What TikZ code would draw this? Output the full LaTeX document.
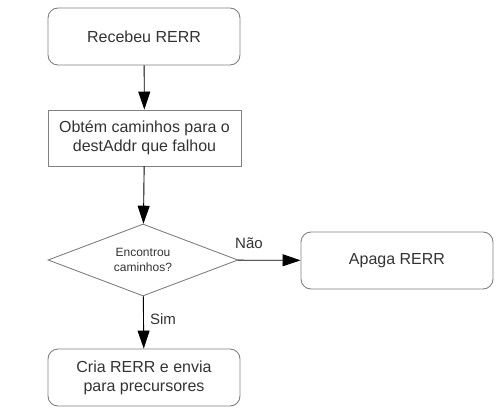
\documentclass[tikz,border=0pt]{standalone}
\usepackage{fontspec}
\setmainfont{Liberation Sans}
\usetikzlibrary{shapes.geometric,arrows.meta}
\definecolor{boxgray}{RGB}{128,128,128}
\definecolor{txt}{RGB}{51,51,51}
\begin{document}
\begin{tikzpicture}[x=1pt,y=-1pt,
  roundbox/.style={draw=boxgray,line width=0.9pt,rounded corners=10pt,minimum width=192pt,minimum height=57pt,inner sep=0pt,align=center,text=txt,font=\fontsize{16}{19}\selectfont},
  plainbox/.style={draw=boxgray,line width=0.9pt,minimum width=193pt,minimum height=56pt,inner sep=0pt,align=center,text=txt,font=\fontsize{16}{19}\selectfont},
  decision/.style={draw=boxgray,line width=0.9pt,shape=diamond,aspect=2.6,minimum width=190pt,minimum height=72pt,inner sep=0pt,align=center,text=txt,font=\fontsize{12}{14.6}\selectfont},
  flow/.style={draw=black,line width=0.9pt,-{Triangle[length=18pt,width=12pt]}},
  lbl/.style={text=txt,font=\fontsize{15}{18}\selectfont,inner sep=0pt}]
\useasboundingbox (0,0) rectangle (503,420);
\node[roundbox] (recv) at (144,36.5) {Recebeu RERR};
\node[plainbox] (get) at (144.5,138) {Obtém caminhos para o\\destAddr que falhou};
\node[decision] (found) at (143,260) {Encontrou\\caminhos?};
\node[roundbox] (del) at (397,260.5) {Apaga RERR};
\node[roundbox] (send) at (144,377.5) {Cria RERR e envia\\para precursores};
\draw[flow] (recv) -- (get);
\draw[flow] (get) -- (found);
\draw[flow] (found) -- (del);
\draw[flow] (found) -- (send);
\node[lbl] (nao) at (249,243) {Não};
\node[lbl] (sim) at (163,319.5) {Sim};
\end{tikzpicture}
\end{document}
